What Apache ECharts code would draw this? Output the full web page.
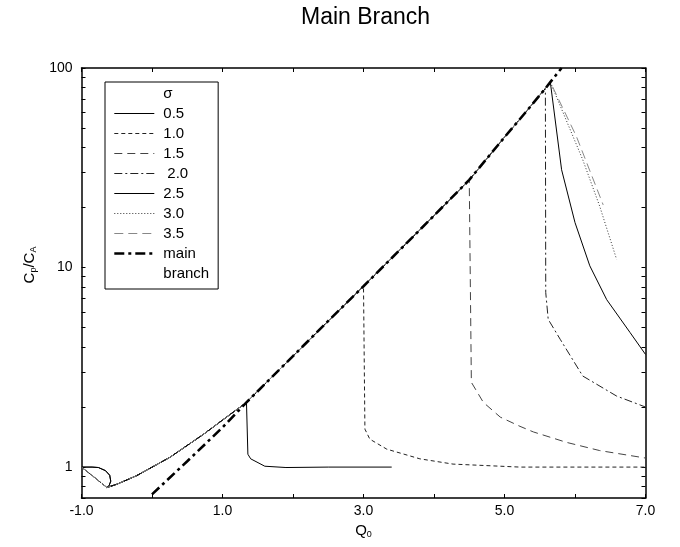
<!DOCTYPE html>
<html>
<head>
<meta charset="utf-8">
<script src="https://cdn.jsdelivr.net/npm/echarts@6/dist/echarts.min.js"></script>
<style>
  html, body { margin: 0; padding: 0; background: #fff; }
  #chart { width: 680px; height: 547px; }
</style>
</head>
<body>
<div id="chart"></div>
<script>
// Axis ticks and labels
const xTickValues = [-1, 0, 1, 2, 3, 4, 5, 6, 7];
const xLabelValues = [-1, 1, 3, 5, 7];
const yLabelValues = [1, 10, 100];
const yTickValues = [0.7, 0.8, 0.9, 1, 2, 3, 4, 5, 6, 7, 8, 9, 10, 20, 30, 40, 50, 60, 70, 80, 90, 100];

// Legend entries (sigma values)
const sigmaNames = ['0.5', '1.0', '1.5', '2.0', '2.5', '3.0', '3.5'];

// Starting segments near Q0 = -1
const loopStart = [[-1.0, 1.0], [-0.85, 1.0], [-0.76, 0.995], [-0.66, 0.96], [-0.6, 0.91], [-0.585, 0.85], [-0.61, 0.805], [-0.64, 0.79]];
const diagStart = [[-1.0, 1.0], [-0.82, 0.89], [-0.64, 0.79]];

// Rising path shared by all sigma curves before they meet the main branch
const risingPath = [[-0.64, 0.79], [-0.5, 0.82], [-0.22, 0.905], [0.255, 1.12], [0.73, 1.46], [1.0, 1.72], [1.34, 2.11]];

// Main branch
const mainBranch = [[0.0, 0.73], [0.5, 1.07], [1.0, 1.58], [1.34, 2.11], [2.0, 3.6], [2.5, 5.4], [3.0, 8.06], [3.52, 12.3], [4.0, 18.2], [4.5, 27.5], [5.0, 45], [5.3, 60], [5.58, 79], [5.65, 85], [5.81, 100]];

// Departure tails of each sigma curve
const tail05 = [[1.34, 2.11], [1.36, 1.16], [1.40, 1.10], [1.6, 1.01], [1.9, 0.995], [2.5, 1.0], [3.4, 1.0]];
const tail10 = [[3.0, 8.06], [3.02, 1.55], [3.09, 1.38], [3.33, 1.23], [3.8, 1.10], [4.27, 1.035], [5.22, 1.0], [7.0, 1.0]];
const tail15 = [[4.52, 28], [4.53, 2.66], [4.70, 2.11], [4.94, 1.78], [5.22, 1.60], [5.41, 1.50], [5.88, 1.33], [6.35, 1.21], [7.0, 1.11]];
const tail20 = [[5.58, 79], [5.585, 7.5], [5.62, 5.5], [5.79, 4.37], [6.11, 2.86], [6.59, 2.27], [7.0, 2.0]];
const tail25 = [[5.655, 85.5], [5.81, 30.9], [6.0, 16.8], [6.21, 10.2], [6.45, 6.9], [6.78, 4.73], [7.0, 3.67]];
const tail30 = [[5.66, 86], [6.11, 34.7], [6.35, 20.3], [6.59, 11.0]];
const tail35 = [[5.67, 86], [6.02, 45.4], [6.4, 20.6]];

const sharedPath = risingPath.concat(mainBranch.filter(p => p[0] > 1.34));

function buildCurve(start, tail) {
  const departX = tail[0][0];
  return start.slice(0, -1)
    .concat(sharedPath.filter(p => p[0] < departX))
    .concat(tail);
}

const curveSpecs = [
  { name: '0.5', start: loopStart, tail: tail05, color: '#000', type: 'solid', width: 1 },
  { name: '1.0', start: diagStart, tail: tail10, color: '#222', type: [4, 3], width: 1 },
  { name: '1.5', start: diagStart, tail: tail15, color: '#444', type: [8, 5], width: 1 },
  { name: '2.0', start: diagStart, tail: tail20, color: '#222', type: [8, 3, 2, 3], width: 1 },
  { name: '2.5', start: loopStart, tail: tail25, color: '#000', type: 'solid', width: 1 },
  { name: '3.0', start: diagStart, tail: tail30, color: '#333', type: [1, 2], width: 1 },
  { name: '3.5', start: diagStart, tail: tail35, color: '#888', type: [9, 5], width: 1 }
];

const FONT = 'Liberation Sans';
const HIDDEN = 'rgba(0,0,0,0)';

const series = [];
series.push({ name: 'σ', type: 'line', data: [], symbol: 'none', itemStyle: { color: HIDDEN }, lineStyle: { color: HIDDEN } });
curveSpecs.forEach(s => {
  series.push({
    name: s.name,
    type: 'line',
    symbol: 'none',
    showSymbol: false,
    silent: true,
    data: buildCurve(s.start, s.tail),
    itemStyle: { color: s.color },
    lineStyle: { color: s.color, width: s.width, type: s.type }
  });
});
series.push({
  name: 'main',
  type: 'line',
  symbol: 'none',
  showSymbol: false,
  silent: true,
  z: 5,
  data: mainBranch,
  itemStyle: { color: '#000' },
  lineStyle: { color: '#000', width: 2.6, type: [10, 4, 3, 4] }
});
series.push({ name: 'branch', type: 'line', data: [], symbol: 'none', itemStyle: { color: HIDDEN }, lineStyle: { color: HIDDEN } });

const legendData = ['σ'].concat(sigmaNames.map(n => {
  if (n === '2.0') return { name: n, textStyle: { padding: [0, 0, 0, 8] } };
  return n;
}), ['main', 'branch']);

const axisLineStyle = { onZero: false, lineStyle: { color: '#000', width: 1.5 } };
const tickStyle = { inside: true, length: 4, lineStyle: { color: '#000', width: 1 } };

const option = {
  animation: false,
  backgroundColor: '#fff',
  title: {
    text: 'Main Branch',
    left: 296,
    top: 1,
    textStyle: { fontFamily: FONT, fontSize: 23, fontWeight: 'normal', color: '#000' }
  },
  grid: { left: 81.5, right: 34.5, top: 68, bottom: 49, containLabel: false },
  legend: {
    orient: 'vertical',
    left: 105,
    top: 82,
    data: legendData,
    selectedMode: false,
    itemWidth: 40,
    itemHeight: 14,
    itemGap: 5,
    padding: [4, 9, 8, 8],
    borderColor: '#000',
    borderWidth: 1,
    backgroundColor: '#fff',
    itemStyle: { opacity: 0 },
    lineStyle: { width: 'inherit' },
    textStyle: { fontFamily: FONT, fontSize: 15, color: '#000', padding: [0, 0, 0, 4] }
  },
  xAxis: [
    {
      type: 'value', min: -1, max: 7, position: 'bottom',
      name: 'Q{s|0}', nameLocation: 'middle', nameGap: 22,
      nameTextStyle: { fontFamily: FONT, fontSize: 15, color: '#000', rich: { s: { fontSize: 9, padding: [8, 0, 0, 0] } } },
      axisLine: axisLineStyle,
      axisTick: Object.assign({ customValues: xTickValues }, tickStyle),
      axisLabel: { customValues: xLabelValues, formatter: v => v.toFixed(1), margin: 6, fontFamily: FONT, fontSize: 14, color: '#000' },
      splitLine: { show: false }
    },
    {
      type: 'value', min: -1, max: 7, position: 'top',
      axisLine: axisLineStyle,
      axisTick: Object.assign({ customValues: xTickValues }, tickStyle),
      axisLabel: { show: false },
      splitLine: { show: false }
    }
  ],
  yAxis: [
    {
      type: 'log', logBase: 10, min: 0.7, max: 100, position: 'left',
      name: 'C{s|p}/C{s|A}', nameLocation: 'middle', nameGap: 33, nameRotate: 90,
      nameTextStyle: { fontFamily: FONT, fontSize: 15, color: '#000', padding: [0, 0, 0, 36], rich: { s: { fontSize: 9, padding: [8, 0, 0, 0] } } },
      axisLine: axisLineStyle,
      axisTick: Object.assign({ customValues: yTickValues }, tickStyle),
      axisLabel: { customValues: yLabelValues, formatter: v => String(v), margin: 9, fontFamily: FONT, fontSize: 14, color: '#000' },
      splitLine: { show: false },
      minorTick: { show: false }
    },
    {
      type: 'log', logBase: 10, min: 0.7, max: 100, position: 'right',
      axisLine: axisLineStyle,
      axisTick: Object.assign({ customValues: yTickValues }, tickStyle),
      axisLabel: { show: false },
      splitLine: { show: false }
    }
  ],
  series: series
};

const chart = echarts.init(document.getElementById('chart'), null, { renderer: 'canvas' });
chart.setOption(option);
</script>
</body>
</html>
